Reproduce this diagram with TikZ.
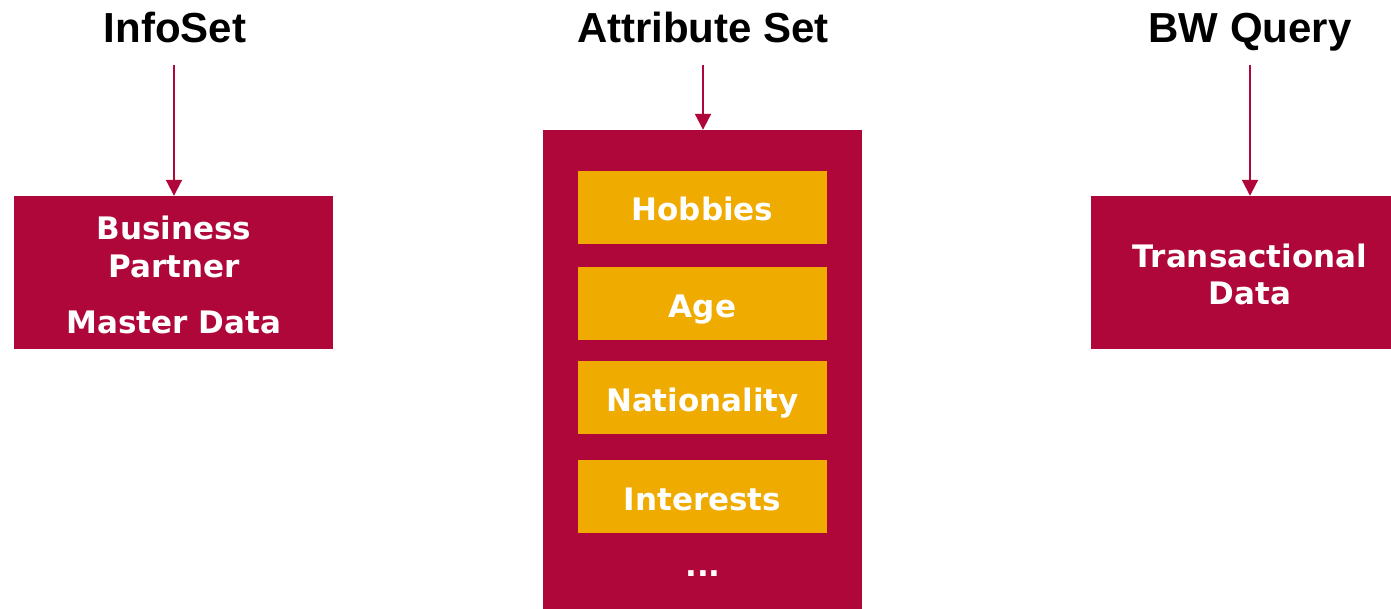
\documentclass[tikz,border=0pt]{standalone}
\usepackage{fontspec}
\setmainfont{Liberation Sans}
\newfontfamily\boxfont{DejaVu Sans}
\usetikzlibrary{arrows.meta,calc}
\definecolor{crimson}{HTML}{B0073A}
\definecolor{amber}{HTML}{F0AB00}
\begin{document}
\begin{tikzpicture}[x=1pt,y=-1pt,
  title/.style={font=\fontsize{42}{50}\selectfont\bfseries, anchor=base, inner sep=0pt},
  redbox/.style={fill=crimson, draw=none, inner sep=0pt},
  itembox/.style={fill=amber, draw=none, minimum width=249pt, minimum height=73pt, inner sep=0pt,
    text=white, font=\fontsize{31}{36}\boxfont\bfseries, text height=27pt, text depth=0pt},
  boxtext/.style={text=white, font=\fontsize{31}{36}\boxfont\bfseries, anchor=base, inner sep=0pt},
  feed/.style={draw=crimson, line width=2pt, -{Triangle[width=16pt,length=16pt]}}]
\useasboundingbox (0,0) rectangle (1391,609);

% column titles
\node[title] (tinfo) at (175,43) {InfoSet};
\node[title] (tattr) at (703,43) {Attribute Set};
\node[title] (tbw) at (1250,43) {BW Query};

% InfoSet: business partner master data
\node[redbox, minimum width=319pt, minimum height=153pt] (bp) at (173.5,272.5) {};
\node[boxtext] (bp1) at (174,240) {Business};
\node[boxtext] (bp2) at (174,278) {Partner};
\node[boxtext] (bp3) at (174,334) {Master Data};

% Attribute set with its attributes
\node[redbox, minimum width=319pt, minimum height=479pt] (attr) at (702.5,369.5) {};
\node[itembox] (hob) at (702.5,207.5) {Hobbies};
\node[itembox] (age) at (702.5,303.5) {Age};
\node[itembox] (nat) at (702.5,397.5) {Nationality};
\node[itembox] (int) at (702.5,496.5) {Interests};
\node[boxtext] (more) at (703,576) {...};

% BW query: transactional data
\node[redbox, minimum width=300pt, minimum height=153pt] (td) at (1241,272.5) {};
\node[boxtext] (td1) at (1250,268) {Transactional};
\node[boxtext] (td2) at (1250,305) {Data};

% connectors
\coordinate (sinfo) at (174,65);
\coordinate (sattr) at (703,65);
\coordinate (sbw) at (1250,65);
\draw[feed] (sinfo) -- (sinfo |- bp.north);
\draw[feed] (sattr) -- (sattr |- attr.north);
\draw[feed] (sbw) -- (sbw |- td.north);
\end{tikzpicture}
\end{document}
